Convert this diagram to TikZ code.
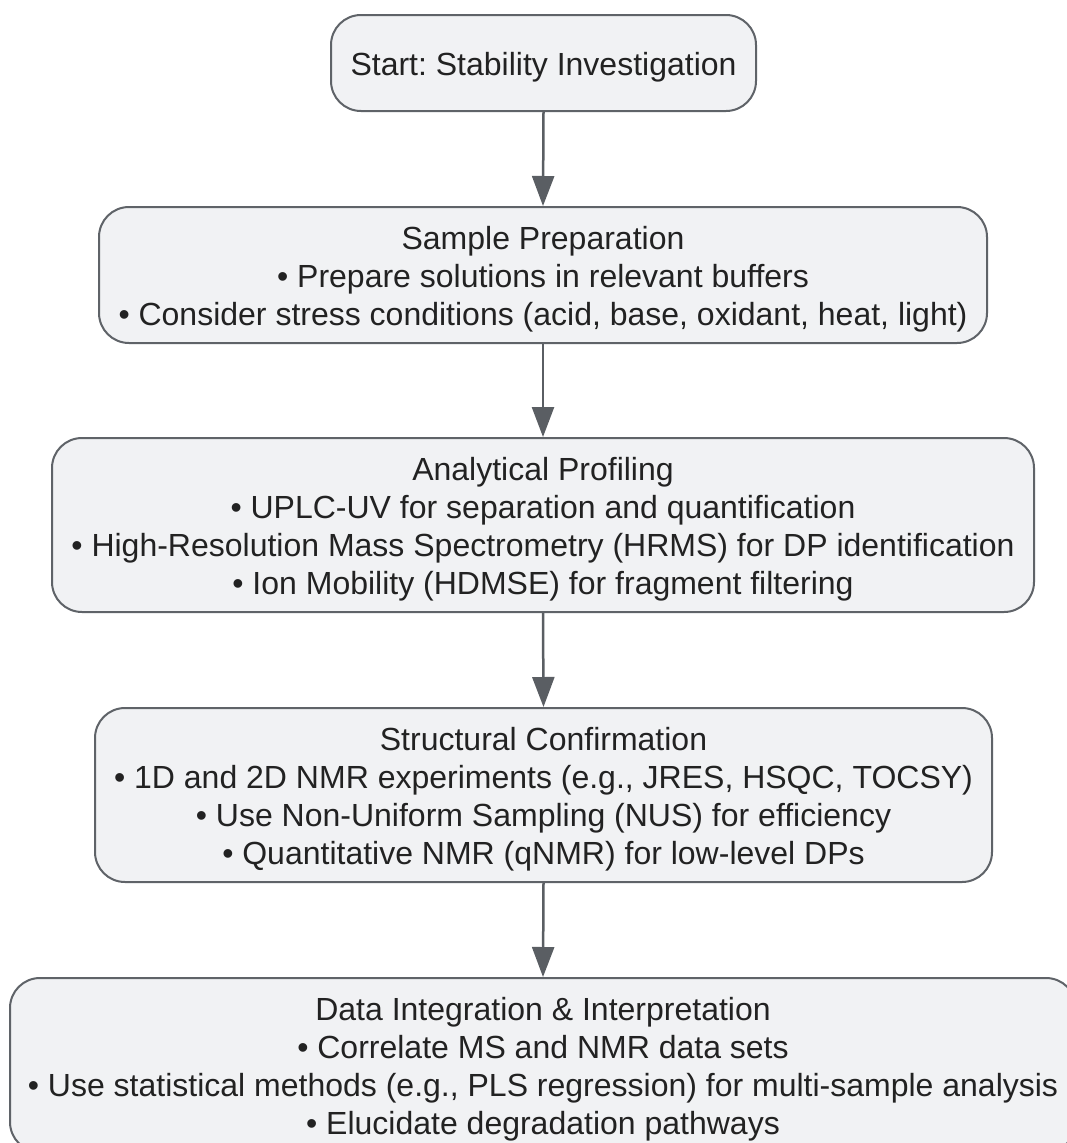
\documentclass[tikz,border=0pt]{standalone}
\usepackage{fontspec}
\setmainfont{Liberation Sans}
\frenchspacing
\usetikzlibrary{arrows.meta}
\definecolor{boxfill}{HTML}{F1F2F4}
\definecolor{boxline}{HTML}{5F6368}
\definecolor{txt}{HTML}{222222}
\definecolor{arrowc}{HTML}{5A5E63}
\newcommand{\tstrut}{\rule{0pt}{31pt}}
\tikzset{
  flowbox/.style={draw=boxline, line width=2pt, fill=boxfill, rounded corners=30pt,
    align=center, inner sep=0pt, text=txt,
    font=\fontsize{32pt}{38pt}\selectfont},
  flowarrow/.style={draw=arrowc, line width=2.5pt,
    -{Triangle[width=22pt,length=30pt,fill=arrowc]}}
}
\begin{document}
\begin{tikzpicture}[x=1pt,y=-1pt]
\useasboundingbox (0,0) rectangle (1067,1143);
\fill[white] (0,0) rectangle (1067,1143);
\node[flowbox, minimum width=425pt, minimum height=96pt] (b1) at (543.5,63) {\tstrut Start: Stability Investigation};
\node[flowbox, minimum width=888pt, minimum height=136pt] (b2) at (543,275)
  {\tstrut Sample Preparation\\• Prepare solutions in relevant buffers\\• Consider stress conditions (acid, base, oxidant, heat, light)};
\node[flowbox, minimum width=982pt, minimum height=174pt] (b3) at (543,525)
  {\tstrut Analytical Profiling\\• UPLC-UV for separation and quantification\\• High-Resolution Mass Spectrometry (HRMS) for DP identification\\• Ion Mobility (HDMSE) for fragment filtering};
\node[flowbox, minimum width=897pt, minimum height=174pt] (b4) at (543.5,795)
  {\tstrut Structural Confirmation\\• 1D and 2D NMR experiments (e.g., JRES, HSQC, TOCSY)\\• Use Non-Uniform Sampling (NUS) for efficiency\\• Quantitative NMR (qNMR) for low-level DPs};
\node[flowbox, minimum width=1066pt, minimum height=174pt] (b5) at (543,1065)
  {\tstrut Data Integration \& Interpretation\\• Correlate MS and NMR data sets\\• Use statistical methods (e.g., PLS regression) for multi-sample analysis\\• Elucidate degradation pathways};
\draw[flowarrow] (b1.south) -- (b2.north);
\draw[flowarrow] (b2.south) -- (b3.north);
\draw[flowarrow] (b3.south) -- (b4.north);
\draw[flowarrow] (b4.south) -- (b5.north);
\end{tikzpicture}
\end{document}
